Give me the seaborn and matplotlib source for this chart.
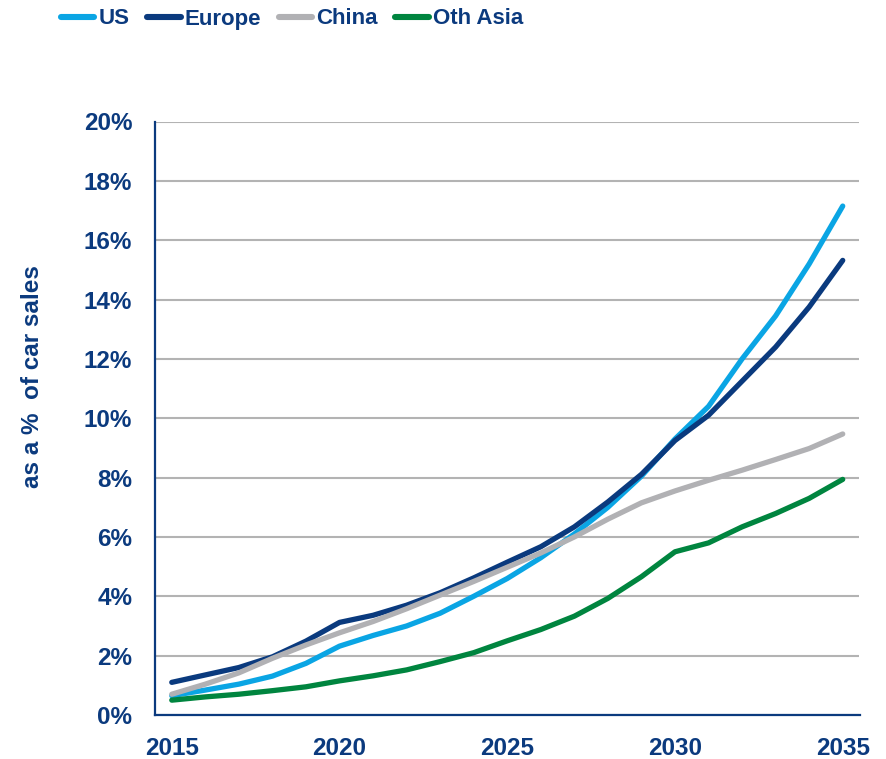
import matplotlib
matplotlib.use("Agg")
import matplotlib.pyplot as plt
import pandas as pd
import seaborn as sns

# Share of car sales by region, 2015-2035 (%)
years = list(range(2015, 2036))
us = [0.65, 0.84, 1.04, 1.31, 1.74, 2.32, 2.68, 3.00, 3.43, 4.00, 4.60,
      5.30, 6.10, 7.00, 8.05, 9.30, 10.40, 12.00, 13.45, 15.20, 17.15]
europe = [1.10, 1.35, 1.60, 1.96, 2.49, 3.12, 3.36, 3.70, 4.12, 4.62, 5.15,
          5.67, 6.34, 7.18, 8.11, 9.25, 10.10, 11.25, 12.40, 13.75, 15.32]
china = [0.70, 1.04, 1.42, 1.91, 2.36, 2.77, 3.15, 3.58, 4.04, 4.50, 4.98,
         5.46, 6.00, 6.60, 7.15, 7.55, 7.91, 8.25, 8.61, 8.98, 9.47]
oth_asia = [0.50, 0.61, 0.70, 0.82, 0.95, 1.15, 1.32, 1.52, 1.80, 2.10, 2.50,
            2.88, 3.33, 3.93, 4.66, 5.50, 5.80, 6.34, 6.79, 7.30, 7.94]

regions = ["US", "Europe", "China", "Oth Asia"]
colors = ["#0AA5E4", "#0A3A7E", "#B1B1B4", "#00853F"]
y_ticks = list(range(0, 21, 2))
x_label_years = [2015, 2020, 2025, 2030, 2035]

navy = "#0B3A7E"

df = pd.DataFrame({
    "year": years * 4,
    "share": us + europe + china + oth_asia,
    "region": sum([[r] * len(years) for r in regions], []),
})

sns.set_style("white")
plt.rcParams["font.family"] = ["Liberation Sans", "DejaVu Sans"]

fig = plt.figure(figsize=(8.87, 7.59), dpi=100)
ax = fig.add_axes([155 / 887, 1 - 715 / 759, (859.5 - 155) / 887, (715 - 121.5) / 759])

sns.lineplot(data=df, x="year", y="share", hue="region", hue_order=regions,
             palette=colors, linewidth=3.8, legend=False, ax=ax,
             solid_capstyle="round", solid_joinstyle="round")

ax.set_xlim(2014.5, 2035.5)
ax.set_ylim(0, 20)

# y axis
ax.set_yticks(y_ticks)
ax.set_yticklabels([f"{v}%" for v in y_ticks])
ax.yaxis.grid(True, color="#B3B3B3", linewidth=1.5)
ax.xaxis.grid(False)
ax.set_axisbelow(True)
ax.tick_params(axis="y", which="major", direction="out", length=5.8, width=1.5,
               color=navy, pad=10.5, labelsize=17.5, labelcolor=navy)

# x axis: labels under categories, tick marks on the boundaries
ax.set_xticks(x_label_years)
ax.set_xticklabels([str(y) for y in x_label_years])
ax.set_xticks([y - 0.5 for y in x_label_years], minor=True)
ax.tick_params(axis="x", which="major", length=0, pad=16, labelsize=17.5,
               labelcolor=navy)
ax.tick_params(axis="x", which="minor", direction="out", length=5.2, width=1.5,
               color=navy)
for lbl in ax.get_xticklabels() + ax.get_yticklabels():
    lbl.set_fontweight("bold")

for side in ["top", "right"]:
    ax.spines[side].set_visible(False)
for side in ["left", "bottom"]:
    ax.spines[side].set_color(navy)
    ax.spines[side].set_linewidth(1.6)

ax.set_xlabel("")
ax.set_ylabel("as a %  of car sales", fontsize=17.5, fontweight="bold",
              color=navy)
ax.yaxis.set_label_coords(-0.158, 0.57)

handles = ax.get_lines()[:4]
leg = fig.legend(handles, regions, loc="center left",
                 bbox_to_anchor=(50 / 887, 1 - 19 / 759), ncol=4,
                 frameon=False, borderpad=0, handlelength=1.5,
                 handletextpad=0.18, columnspacing=0.8,
                 prop={"family": ["Liberation Sans"], "weight": "bold",
                       "size": 16},
                 labelcolor=navy)
for line in leg.get_lines():
    line.set_linewidth(4.4)

fig.savefig("out.png", dpi=100)
